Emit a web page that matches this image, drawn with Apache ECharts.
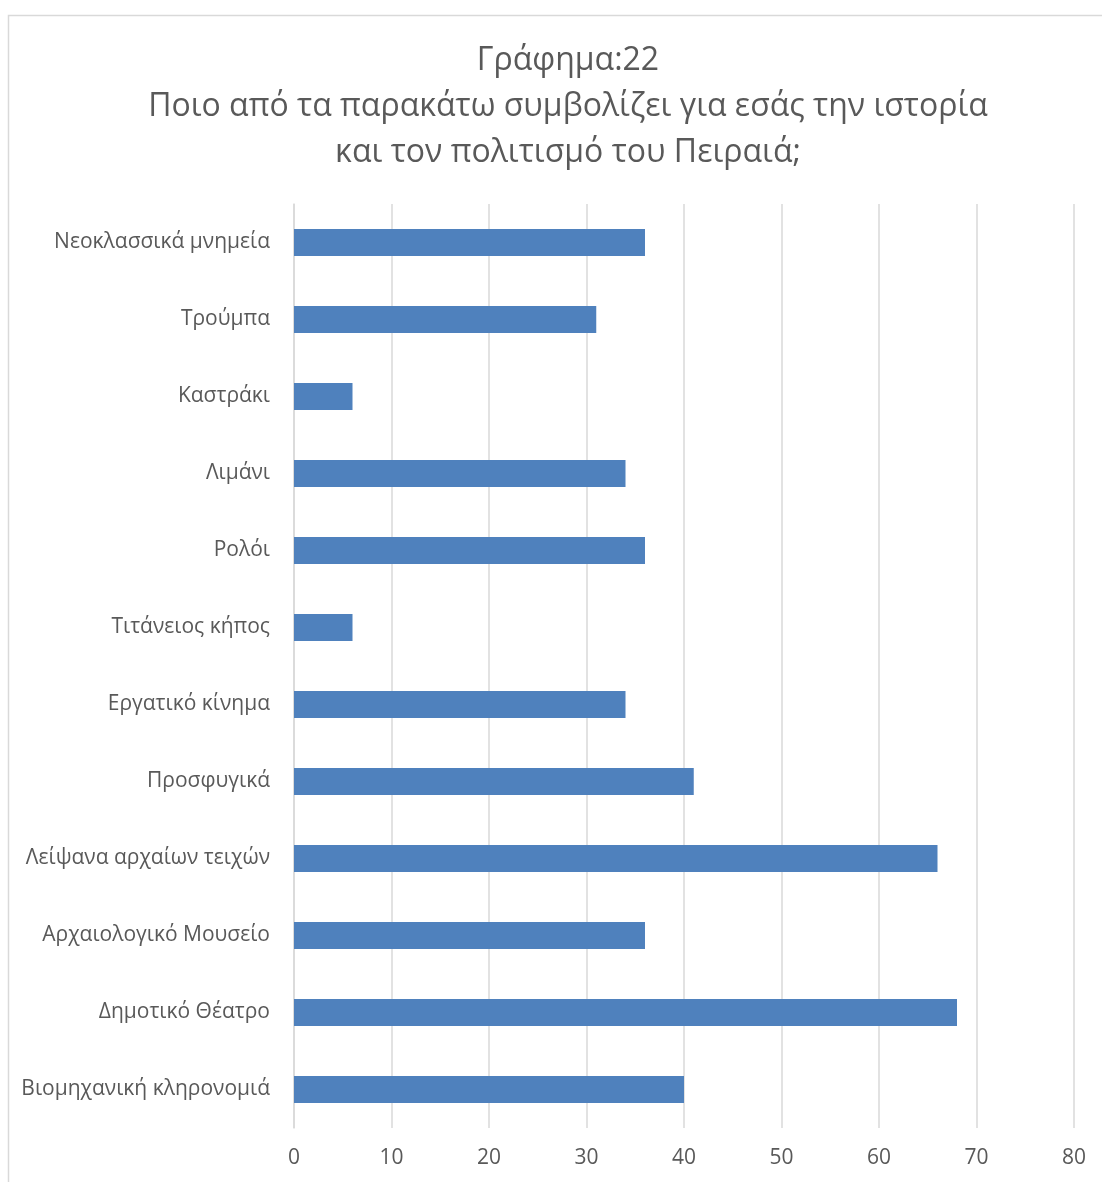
<!DOCTYPE html>
<html>
<head>
<meta charset="utf-8">
<script src="https://cdn.jsdelivr.net/npm/echarts@6/dist/echarts.min.js"></script>
<style>
html,body{margin:0;padding:0;background:#fff;}
#chart{width:1102px;height:1182px;}
</style>
</head>
<body>
<div id="chart"></div>
<script>
// Categories listed bottom to top
const categories = [
  "Βιομηχανική κληρονομιά",
  "Δημοτικό Θέατρο",
  "Αρχαιολογικό Μουσείο",
  "Λείψανα αρχαίων τειχών",
  "Προσφυγικά",
  "Εργατικό κίνημα",
  "Τιτάνειος κήπος",
  "Ρολόι",
  "Λιμάνι",
  "Καστράκι",
  "Τρούμπα",
  "Νεοκλασσικά μνημεία"
];
const values = [40, 68, 36, 66, 41, 34, 6, 36, 34, 6, 31, 36];
const titleLines = [
  "Γράφημα:22",
  "Ποιο από τα παρακάτω συμβολίζει για εσάς την ιστορία",
  "και τον πολιτισμό του Πειραιά;"
];
const axisMin = 0, axisMax = 80, axisStep = 10;

const FONT = "'Open Sans', 'Noto Sans', sans-serif";
const chart = echarts.init(document.getElementById('chart'), null, {renderer: 'canvas'});
chart.setOption({
  backgroundColor: '#ffffff',
  animation: false,
  title: {
    text: titleLines.join('\n'),
    left: 563,
    top: 33,
    textAlign: 'center',
    textStyle: {
      color: '#595959',
      fontFamily: FONT,
      fontWeight: 'normal',
      fontSize: 32,
      lineHeight: 46
    }
  },
  graphic: [{
    type: 'rect',
    shape: {x: 8.5, y: 15.5, width: 1200, height: 1200},
    style: {fill: 'none', stroke: '#d9d9d9', lineWidth: 1.5},
    silent: true
  }],
  grid: {left: 294, right: 28, top: 204, bottom: 54, containLabel: false},
  xAxis: {
    type: 'value',
    min: axisMin, max: axisMax, interval: axisStep,
    axisLine: {show: false},
    axisTick: {show: false},
    splitLine: {show: true, lineStyle: {color: '#d9d9d9', width: 1.5}},
    axisLabel: {color: '#595959', fontFamily: FONT, fontSize: 21, margin: 20}
  },
  yAxis: {
    type: 'category',
    data: categories,
    axisLine: {show: true, lineStyle: {color: '#d9d9d9', width: 1.5}},
    axisTick: {show: false},
    axisLabel: {color: '#595959', fontFamily: FONT, fontSize: 21, margin: 24, padding: [5, 0, 0, 0]}
  },
  series: [{
    type: 'bar',
    data: values,
    barWidth: 27,
    itemStyle: {color: '#4F81BD'}
  }]
});
</script>
</body>
</html>
